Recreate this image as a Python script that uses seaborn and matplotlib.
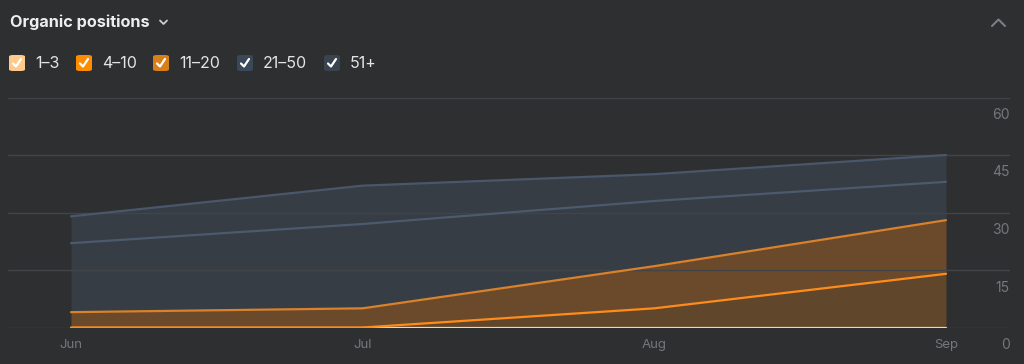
import matplotlib
matplotlib.use("Agg")
import matplotlib.pyplot as plt
import matplotlib.transforms as mtransforms
from matplotlib.patches import FancyBboxPatch
from matplotlib.lines import Line2D
import numpy as np
import pandas as pd
import seaborn as sns

# ---------------- Data ----------------
months = ["Jun", "Jul", "Aug", "Sep"]
series_names = ["1–3", "4–10", "11–20", "21–50", "51+"]
pos_1_3 = [0, 0, 0, 0]
pos_4_10 = [0, 0, 5, 14]
pos_11_20 = [4, 5, 11, 14]
pos_21_50 = [18, 22, 17, 10]
pos_51_plus = [7, 10, 7, 7]
y_ticks = [0, 15, 30, 45, 60]

# ---------------- Style ----------------
BG = "#2e2f31"
GRID = "#424448"
TICK = "#75777b"
line_colors = ["#ffd39a", "#ff8c1a", "#d9822b", "#4b5a6c", "#4a576a"]
fill_colors = ["#ffc98b", "#8a5a26", "#80542a", "#3a424c", "#3a424c"]
fill_alpha = [1.0, 0.55, 0.75, 0.75, 0.75]
box_colors = ["#ffc98b", "#ff8c00", "#d97f1a", "#3b4858", "#3a4350"]

sns.set_theme(style="dark", rc={"axes.facecolor": BG, "figure.facecolor": BG})
plt.rcParams["font.family"] = ["Inter", "DejaVu Sans"]

values = np.array([pos_1_3, pos_4_10, pos_11_20, pos_21_50, pos_51_plus], dtype=float)
cum = np.cumsum(values, axis=0)
x = np.arange(len(months))

df = pd.DataFrame({
    "x": np.tile(x, len(series_names)),
    "value": cum.ravel(),
    "series": np.repeat(series_names, len(months)),
})

W, H = 1024, 364
fig = plt.figure(figsize=(W / 100, H / 100), dpi=100)
ax = fig.add_axes([8 / W, 1 - 327.5 / H, (1010 - 8) / W, (327.5 - 97.5) / H])

# gridlines
for t in y_ticks:
    ax.axhline(t, color=GRID, lw=1, zorder=3)

# stacked fills
prev = np.zeros(len(months))
for i, name in enumerate(series_names):
    ax.fill_between(x, prev, cum[i], color=fill_colors[i], alpha=fill_alpha[i],
                    lw=0, zorder=1)
    prev = cum[i]

# lines
sns.lineplot(data=df, x="x", y="value", hue="series", palette=line_colors,
             hue_order=series_names, legend=False, ax=ax, lw=1.6, zorder=4)

ppu = (946 - 71) / 3
ax.set_xlim(-(71 - 8) / ppu, 3 + (1010 - 946) / ppu)
ax.set_ylim(0, 60)
ax.set_xticks(x)
ax.set_xticklabels(months)
ax.set_yticks(y_ticks)
ax.set_yticklabels([str(t) for t in y_ticks])
ax.set_xlabel("")
ax.set_ylabel("")
ax.yaxis.tick_right()
ax.tick_params(axis="x", length=0, pad=8, colors=TICK, labelsize=9.5)
ax.tick_params(axis="y", length=0, pad=0, colors=TICK, labelsize=10)
ax.grid(False)
for s in ax.spines.values():
    s.set_visible(False)
shift = mtransforms.ScaledTranslation(0, -0.16, fig.dpi_scale_trans)
for lab in ax.get_yticklabels():
    lab.set_horizontalalignment("right")
    lab.set_transform(lab.get_transform() + shift)

# ---------------- Header ----------------
def fx(px):
    return px / W


def fy(py):
    return 1 - py / H


fig.text(fx(10), fy(22), "Organic positions", color="#eeeeee", fontsize=11.7,
         fontweight="bold", va="center", ha="left")
fig.add_artist(Line2D([fx(160), fx(163.5), fx(167)], [fy(20.5), fy(24), fy(20.5)],
                      color="#cfcfcf", lw=1.3))
fig.add_artist(Line2D([fx(992), fx(998.5), fx(1005)], [fy(26), fy(19.5), fy(26)],
                      color="#7c7e82", lw=1.5))

# legend
box_x = [9, 76, 153, 237, 324]
for i, name in enumerate(series_names):
    bx = box_x[i]
    fig.add_artist(FancyBboxPatch((fx(bx), fy(71)), 16 / W, 16 / H,
                                  boxstyle="round,pad=0,rounding_size=0.004",
                                  transform=fig.transFigure, facecolor=box_colors[i],
                                  edgecolor="none"))
    fig.add_artist(Line2D([fx(bx + 4), fx(bx + 7), fx(bx + 12)],
                          [fy(63.5), fy(66.5), fy(59)], color="white", lw=1.6,
                          solid_capstyle="round", solid_joinstyle="round"))
    fig.text(fx(bx + 26), fy(63), name, color="#e4e4e4", fontsize=11.5, va="center",
             ha="left")

fig.savefig("out.png", dpi=100, facecolor=BG)
